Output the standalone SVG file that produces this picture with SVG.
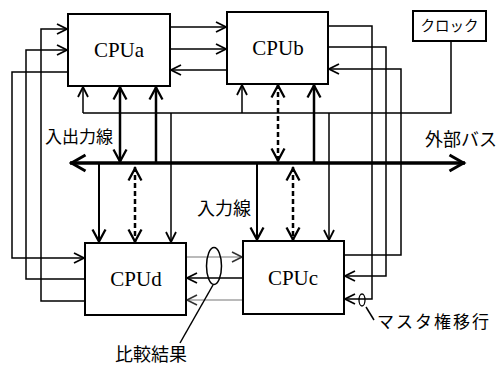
<svg xmlns="http://www.w3.org/2000/svg" width="499" height="367" viewBox="0 0 499 367">
<style>
.box{fill:#fff;stroke:#000;stroke-width:2}
.lbl{font-family:"Liberation Serif",serif;font-size:21px;text-anchor:middle;fill:#000}
.jp{font-family:"Noto Sans CJK JP",sans-serif;fill:#000}
.ln{fill:none;stroke:#000;stroke-width:1.5}
.thk{fill:none;stroke:#000;stroke-width:2.5}
.med{fill:none;stroke:#000;stroke-width:2}
.gry{fill:none;stroke:#777;stroke-width:1.2}
.dsh{fill:none;stroke:#000;stroke-width:2.5;stroke-dasharray:5 3}
.bus{fill:none;stroke:#000;stroke-width:3.5}
</style>
<defs>
<marker id="s" markerUnits="userSpaceOnUse" viewBox="-13 -8 16 16" markerWidth="16" markerHeight="16" refX="1" refY="0" orient="auto-start-reverse">
<path d="M-10,-5 L0,0 L-10,5" fill="none" stroke="#000" stroke-width="1.8"/>
</marker>
<marker id="g" markerUnits="userSpaceOnUse" viewBox="-13 -8 16 16" markerWidth="16" markerHeight="16" refX="1" refY="0" orient="auto-start-reverse">
<path d="M-10,-5 L0,0 L-10,5" fill="none" stroke="#333" stroke-width="1.6"/>
</marker>
<marker id="b" markerUnits="userSpaceOnUse" viewBox="-15 -9 18 18" markerWidth="18" markerHeight="18" refX="1.5" refY="0" orient="auto-start-reverse">
<path d="M-12,-6.5 L0,0 L-12,6.5" fill="none" stroke="#000" stroke-width="2.3"/>
</marker>
<marker id="bb" markerUnits="userSpaceOnUse" viewBox="-18 -10 21 20" markerWidth="21" markerHeight="20" refX="1.5" refY="0" orient="auto-start-reverse">
<path d="M-14,-8 L0,0 L-14,8" fill="none" stroke="#000" stroke-width="3"/>
</marker>
</defs>

<g id="connectors">
<!-- CPUa <-> CPUb -->
<line class="ln" x1="170" y1="27" x2="227" y2="27" marker-end="url(#s)"/>
<line class="ln" x1="170" y1="49" x2="227" y2="49" marker-end="url(#s)"/>
<line class="ln" x1="227" y1="70" x2="170" y2="70" marker-end="url(#s)"/>
<!-- left loops -->
<polyline class="ln" points="68,72 12,72 12,258 85,258" marker-end="url(#s)"/>
<polyline class="ln" points="85,279 26,279 26,50 68,50" marker-end="url(#s)"/>
<polyline class="ln" points="85,301 41,301 41,29 68,29" marker-end="url(#s)"/>
<!-- right loops -->
<polyline class="ln" points="328,26 372,26 372,299 344,299" marker-end="url(#s)"/>
<polyline class="ln" points="328,47 386,47 386,276 344,276" marker-end="url(#s)"/>
<polyline class="ln" points="344,255 401,255 401,69 328,69" marker-end="url(#s)"/>
<!-- CPUd <-> CPUc -->
<line class="gry" x1="186" y1="257" x2="243" y2="257" marker-end="url(#g)"/>
<line class="ln" x1="243" y1="278" x2="186" y2="278" marker-end="url(#s)"/>
<line class="gry" x1="243" y1="300" x2="186" y2="300" marker-end="url(#g)"/>
<!-- clock line -->
<polyline class="ln" points="451,41 451,113 83,113"/>
<line class="ln" x1="83" y1="113" x2="83" y2="86" marker-end="url(#s)"/>
<line class="ln" x1="242" y1="113" x2="242" y2="84" marker-end="url(#s)"/>
<line class="ln" x1="171" y1="113" x2="171" y2="243" marker-end="url(#s)"/>
<line class="ln" x1="329" y1="113" x2="329" y2="241" marker-end="url(#s)"/>
<!-- external bus -->
<line class="bus" x1="70" y1="163" x2="465" y2="163" marker-start="url(#bb)" marker-end="url(#bb)"/>
<!-- bus connections -->
<line class="thk" x1="120" y1="86" x2="120" y2="163" marker-start="url(#b)" marker-end="url(#b)"/>
<line class="thk" x1="156" y1="163" x2="156" y2="86" marker-end="url(#b)"/>
<line class="med" x1="99" y1="163" x2="99" y2="243" marker-end="url(#b)"/>
<line class="dsh" x1="135" y1="167" x2="135" y2="243" marker-start="url(#b)" marker-end="url(#b)"/>
<line class="dsh" x1="278" y1="84" x2="278" y2="162" marker-start="url(#b)" marker-end="url(#b)"/>
<line class="thk" x1="314" y1="163" x2="314" y2="84" marker-end="url(#b)"/>
<line class="med" x1="257" y1="163" x2="257" y2="241" marker-end="url(#b)"/>
<line class="dsh" x1="293" y1="167" x2="293" y2="241" marker-start="url(#b)" marker-end="url(#b)"/>
<!-- annotation ellipses -->
<ellipse cx="214" cy="266" rx="7.5" ry="18.5" fill="none" stroke="#000" stroke-width="1.5"/>
<line class="ln" x1="213" y1="285" x2="180" y2="343"/>
<ellipse cx="362" cy="300" rx="3" ry="6" fill="none" stroke="#000" stroke-width="1.3"/>
<line class="ln" x1="366" y1="307" x2="374" y2="320"/>
</g>

<g id="CPUa">
<rect class="box" x="68" y="14" width="102" height="72"/>
<text class="lbl" x="119" y="57">CPUa</text>
</g>
<g id="CPUb">
<rect class="box" x="227" y="12" width="101" height="72"/>
<text class="lbl" x="278" y="55">CPUb</text>
</g>
<g id="CPUd">
<rect class="box" x="85" y="243" width="101" height="72"/>
<text class="lbl" x="136" y="286">CPUd</text>
</g>
<g id="CPUc">
<rect class="box" x="243" y="241" width="101" height="73"/>
<text class="lbl" x="293" y="285">CPUc</text>
</g>
<g id="clock">
<rect class="box" x="413" y="11" width="73" height="30"/>
<text class="jp" x="449.5" y="31" font-size="14.5" text-anchor="middle">クロック</text>
</g>

<g id="labels">
<text class="jp" x="45" y="143" font-size="17">入出力線</text>
<text class="jp" x="197" y="215" font-size="18">入力線</text>
<text class="jp" x="425" y="146" font-size="18">外部バス</text>
<text class="jp" x="115" y="361" font-size="18">比較結果</text>
<text class="jp" x="377" y="328" font-size="17" letter-spacing="2">マスタ権移行</text>
</g>
</svg>
